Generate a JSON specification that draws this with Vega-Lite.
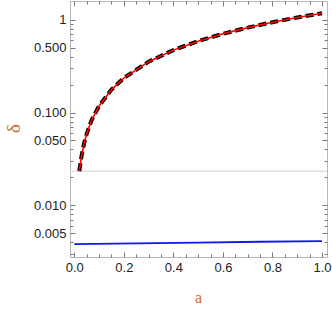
{
  "$schema": "https://vega.github.io/schema/vega-lite/v6.json",
  "width": 257,
  "height": 256,
  "autosize": {"type": "none"},
  "padding": {"left": 70, "top": 1, "right": 5, "bottom": 52},
  "background": "white",
  "config": {
    "view": {"stroke": "#b8b8b8", "strokeWidth": 1},
    "axis": {
      "domain": false,
      "grid": false,
      "labelFont": "Liberation Sans",
      "labelFontSize": 13,
      "labelColor": "#222222",
      "tickColor": "#777777",
      "tickWidth": 1,
      "titleFont": "Liberation Serif",
      "titleFontSize": 16,
      "titleFontWeight": "normal",
      "titleColor": "#c8692a"
    }
  },
  "datasets": {
    "curve": [
      {"a": 0.02, "d": 0.0233},
      {"a": 0.03, "d": 0.035},
      {"a": 0.04, "d": 0.047},
      {"a": 0.05, "d": 0.059},
      {"a": 0.07, "d": 0.083},
      {"a": 0.1, "d": 0.118},
      {"a": 0.15, "d": 0.177},
      {"a": 0.2, "d": 0.236},
      {"a": 0.3, "d": 0.354},
      {"a": 0.4, "d": 0.472},
      {"a": 0.5, "d": 0.59},
      {"a": 0.6, "d": 0.708},
      {"a": 0.7, "d": 0.826},
      {"a": 0.8, "d": 0.944},
      {"a": 0.9, "d": 1.062},
      {"a": 1.0, "d": 1.18}
    ],
    "blue": [
      {"a": 0.0, "d": 0.0038},
      {"a": 0.25, "d": 0.00387},
      {"a": 0.5, "d": 0.00395},
      {"a": 0.75, "d": 0.00403},
      {"a": 1.0, "d": 0.0041}
    ],
    "ref": [{"d": 0.0233}]
  },
  "layer": [
    {
      "data": {"name": "ref"},
      "mark": {"type": "rule", "color": "#cccccc", "strokeWidth": 1},
      "encoding": {
        "y": {
          "field": "d",
          "type": "quantitative",
          "scale": {"type": "log", "domain": [0.00276, 1.6], "nice": false},
          "axis": {
            "orient": "left",
            "title": "δ",
            "titleFontSize": 19,
            "titleX": -57,
            "titleY": 127,
            "titleAngle": -90,
            "titleAlign": "center",
            "titleBaseline": "middle",
            "values": [0.003, 0.004, 0.005, 0.006, 0.007, 0.008, 0.009, 0.01, 0.02, 0.03, 0.04, 0.05, 0.06, 0.07, 0.08, 0.09, 0.1, 0.2, 0.3, 0.4, 0.5, 0.6, 0.7, 0.8, 0.9, 1],
            "labelExpr": "indexof([0.005,0.01,0.05,0.1,0.5,1], datum.value) >= 0 ? (datum.value == 1 ? '1' : format(datum.value, '.3f')) : ''",
            "tickSize": {"condition": {"test": "indexof([0.005,0.01,0.05,0.1,0.5,1], datum.value) >= 0", "value": -5}, "value": -3},
            "labelPadding": 9,
            "labelOverlap": false,
            "labelBound": false
          }
        }
      }
    },
    {
      "data": {"name": "curve"},
      "mark": {"type": "line", "color": "black", "strokeWidth": 4, "strokeDash": [8, 4]},
      "encoding": {
        "x": {
          "field": "a",
          "type": "quantitative",
          "scale": {"domain": [-0.0174, 1.02], "nice": false, "zero": false},
          "axis": {
            "orient": "bottom",
            "title": "a",
            "titleX": 128,
            "titleY": 40,
            "titleAlign": "center",
            "titleBaseline": "middle",
            "values": [0, 0.05, 0.1, 0.15, 0.2, 0.25, 0.3, 0.35, 0.4, 0.45, 0.5, 0.55, 0.6, 0.65, 0.7, 0.75, 0.8, 0.85, 0.9, 0.95, 1],
            "labelExpr": "abs(datum.value*5 - round(datum.value*5)) < 0.000001 ? format(datum.value, '.1f') : ''",
            "tickSize": {"condition": {"test": "abs(datum.value*5 - round(datum.value*5)) < 0.000001", "value": -5}, "value": -3},
            "labelPadding": 9,
            "labelOverlap": false,
            "labelFlush": false
          }
        },
        "y": {
          "field": "d",
          "type": "quantitative",
          "axis": {
            "orient": "right",
            "title": null,
            "values": [0.003, 0.004, 0.005, 0.006, 0.007, 0.008, 0.009, 0.01, 0.02, 0.03, 0.04, 0.05, 0.06, 0.07, 0.08, 0.09, 0.1, 0.2, 0.3, 0.4, 0.5, 0.6, 0.7, 0.8, 0.9, 1],
            "labels": false,
            "tickSize": {"condition": {"test": "indexof([0.005,0.01,0.05,0.1,0.5,1], datum.value) >= 0", "value": -5}, "value": -3}
          }
        }
      }
    },
    {
      "data": {"name": "curve"},
      "mark": {"type": "line", "color": "#ff0000", "strokeWidth": 1.6},
      "encoding": {
        "x": {
          "field": "a",
          "type": "quantitative",
          "axis": {
            "orient": "top",
            "title": null,
            "values": [0, 0.05, 0.1, 0.15, 0.2, 0.25, 0.3, 0.35, 0.4, 0.45, 0.5, 0.55, 0.6, 0.65, 0.7, 0.75, 0.8, 0.85, 0.9, 0.95, 1],
            "labels": false,
            "tickSize": {"condition": {"test": "abs(datum.value*5 - round(datum.value*5)) < 0.000001", "value": -5}, "value": -3}
          }
        },
        "y": {"field": "d", "type": "quantitative", "axis": null}
      }
    },
    {
      "data": {"name": "blue"},
      "mark": {"type": "line", "color": "#1515f0", "strokeWidth": 1.8},
      "encoding": {
        "x": {"field": "a", "type": "quantitative", "axis": null},
        "y": {"field": "d", "type": "quantitative", "axis": null}
      }
    }
  ],
  "resolve": {"axis": {"x": "independent", "y": "independent"}}
}
